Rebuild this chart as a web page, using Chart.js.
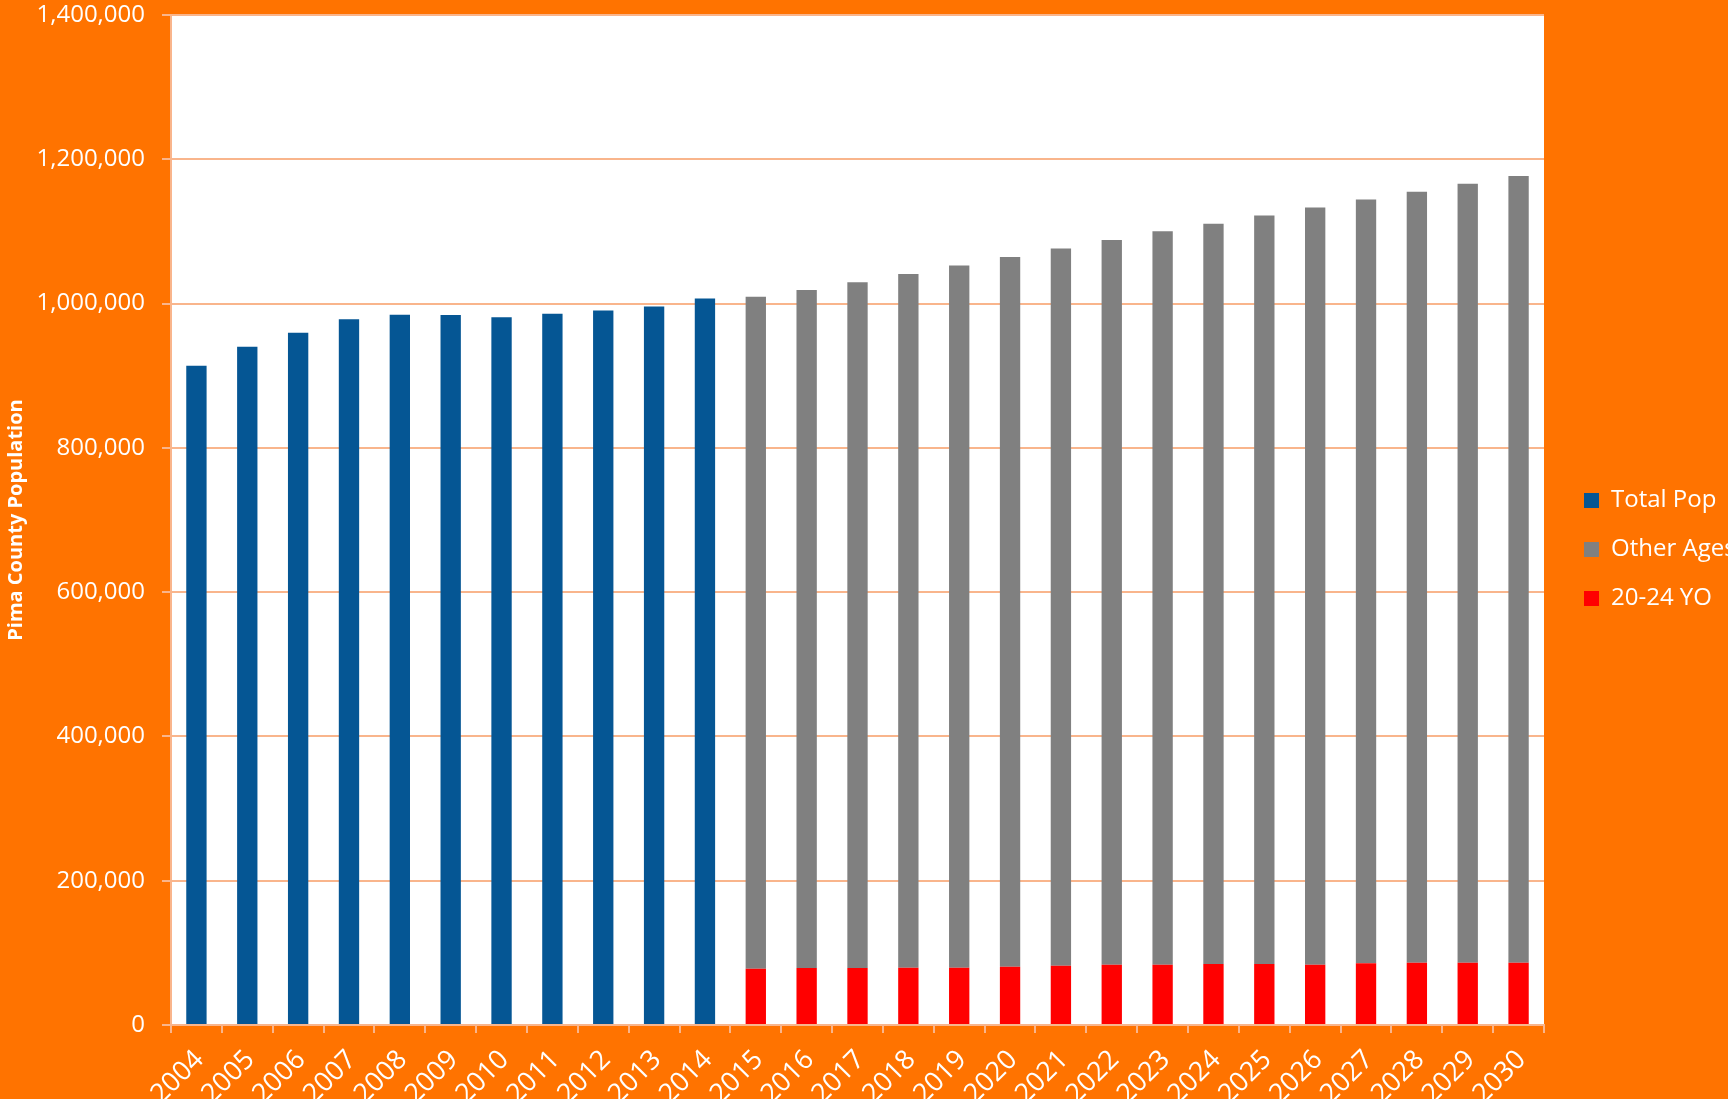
<!DOCTYPE html>
<html>
<head>
<meta charset="utf-8">
<script src="https://cdn.jsdelivr.net/npm/chart.js@4"></script>
<style>
  html, body { margin: 0; padding: 0; background: #ff7300; overflow: hidden; }
  canvas { display: block; }
</style>
</head>
<body>
<canvas id="chartPop" width="1728" height="1099"></canvas>
<script>
// Pima County population, 2004-2014 actual, 2015-2030 projected

const years = ['2004', '2005', '2006', '2007', '2008', '2009', '2010', '2011', '2012',
  '2013', '2014', '2015', '2016', '2017', '2018', '2019', '2020', '2021', '2022',
  '2023', '2024', '2025', '2026', '2027', '2028', '2029', '2030'];

const totalPop = [913800, 940100, 959500, 978100, 984500, 984100, 980900, 985900,
  990300, 996100, 1007200,
  null, null, null, null, null, null, null, null, null, null, null, null, null, null, null, null];

const otherAges = [null, null, null, null, null, null, null, null, null, null, null,
  931400, 939700, 950400, 961500, 973500, 983600, 994300, 1004400, 1016500,
  1026100, 1037700, 1049700, 1058900, 1068600, 1079600, 1090300];

const age20to24 = [null, null, null, null, null, null, null, null, null, null, null,
  78000, 79000, 79000, 79400, 79400, 80800, 82200, 83600, 83600,
  84500, 84500, 83600, 85500, 86400, 86400, 86400];

const yTicks = { min: 0, max: 1400000, step: 200000 };

const GRID = '#f9b58c';
const FONT = '"Open Sans", "Liberation Sans", sans-serif';

// white plot background behind the bars
const plotBg = {
  id: 'plotBg',
  beforeDraw(chart) {
    const { ctx, chartArea: a } = chart;
    ctx.save();
    ctx.fillStyle = '#ffffff';
    ctx.fillRect(a.left, a.top, a.right - a.left, a.bottom - a.top);
    ctx.restore();
  },
};

new Chart(document.getElementById('chartPop'), {
  type: 'bar',
  data: {
    labels: years,
    datasets: [
      { label: '20-24 YO',   data: age20to24, backgroundColor: '#ff0000' },
      { label: 'Other Ages', data: otherAges, backgroundColor: '#808080' },
      { label: 'Total Pop',  data: totalPop,  backgroundColor: '#055694' },
    ],
  },
  options: {
    responsive: false,
    animation: false,
    devicePixelRatio: 1,
    datasets: { bar: { categoryPercentage: 1, barPercentage: 0.4 } },
    layout: { padding: 0 },
    plugins: {
      tooltip: { enabled: false },
      legend: {
        position: 'right',
        reverse: true,
        maxWidth: 169,
        labels: {
          color: '#ffffff',
          font: { family: FONT, size: 24 },
          boxWidth: 15,
          boxHeight: 15,
          padding: 25,
        },
      },
    },
    scales: {
      x: {
        stacked: true,
        afterFit: s => { s.height = 74; },
        grid: { drawOnChartArea: false, drawTicks: true, tickLength: 8, color: GRID, lineWidth: 2 },
        border: { color: GRID, width: 2 },
        ticks: {
          color: '#ffffff',
          font: { family: FONT, size: 27 },
          minRotation: 45,
          maxRotation: 45,
          padding: 11,
          labelOffset: 3,
          autoSkip: false,
        },
      },
      y: {
        stacked: true,
        min: yTicks.min,
        max: yTicks.max,
        afterFit: s => { s.width = 171; s.paddingTop = 15; },
        grid: { color: GRID, lineWidth: 2, tickLength: 9 },
        border: { color: GRID, width: 2 },
        ticks: {
          stepSize: yTicks.step,
          color: '#ffffff',
          font: { family: FONT, size: 24 },
          padding: 17,
          callback: v => v.toLocaleString('en-US'),
        },
        title: {
          display: true,
          text: 'Pima County Population',
          color: '#ffffff',
          font: { family: FONT, size: 20, weight: 'bold' },
          padding: { top: 4, bottom: 4 },
        },
      },
      // empty spacer between plot and legend
      gap: {
        type: 'linear',
        position: 'right',
        afterFit: s => { s.width = 15; },
        grid: { display: false, drawTicks: false },
        border: { display: false },
        ticks: { display: false },
      },
    },
  },
  plugins: [plotBg],
});
</script>
</body>
</html>
